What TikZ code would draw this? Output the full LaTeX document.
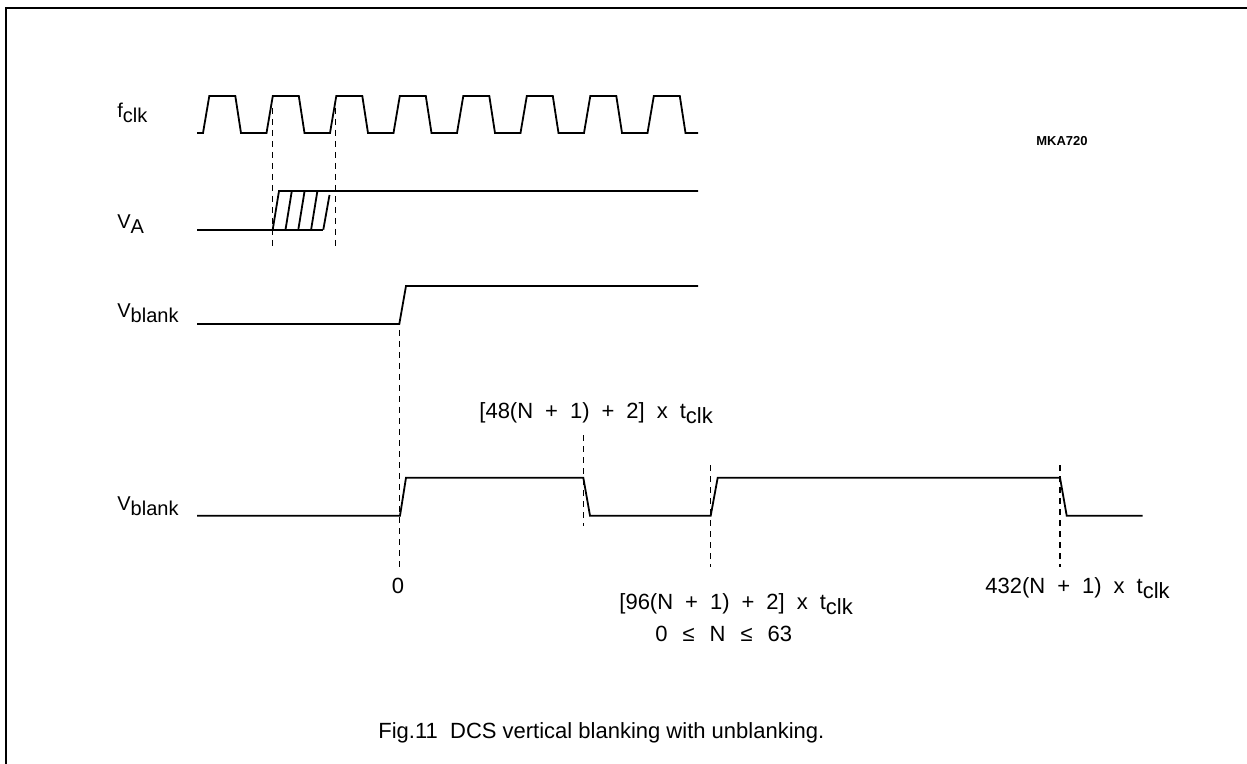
\documentclass[tikz,border=0pt]{standalone}
\usepackage{fontspec}
\setmainfont{Liberation Sans}
\usetikzlibrary{positioning}

\newcommand{\lowsub}[1]{\raisebox{-2.5pt}{#1}}
\newcommand{\gap}{\hspace{6pt}}
\newcommand{\wgap}{\hspace{7.5pt}}

\begin{document}
\begin{tikzpicture}[
    x=0.5pt, y=-0.5pt,
    sig/.style={draw=black, line width=0.9pt, line join=miter},
    guide/.style={draw=black, line width=0.7pt, dash pattern=on 3pt off 2.5pt},
    frame/.style={draw=black, line width=1pt},
    signame/.style={anchor=base west, inner sep=0pt, font=\fontsize{10}{12}\selectfont},
    timelbl/.style={anchor=base west, inner sep=0pt, font=\fontsize{11}{13}\selectfont},
    tag/.style={inner sep=0pt, font=\fontsize{6.5}{7}\selectfont\bfseries},
    caption/.style={anchor=base west, inner sep=0pt, font=\fontsize{11}{13}\selectfont}
  ]
    \useasboundingbox (0,0) rectangle (1247,764);
    % frame
    \draw[frame] (6,764) -- (6,8) -- (1247,8);

    % signal names
    \node[signame] (fclk) at (117,118) {f\lowsub{clk}};
    \node[signame] (va) at (117,229) {V\lowsub{A}};
    \node[signame] (vb1) at (117,318) {V\lowsub{blank}};
    \node[signame] (vb2) at (117,510) {V\lowsub{blank}};
    \node[tag] (code) at (1062,141) {MKA720};

    % clock
    \draw[sig] (197,133) \foreach \i in {0,...,7} {
        -- ({203+63.5*\i},133) -- ({209.3+63.5*\i},96)
        -- ({235.3+63.5*\i},96) -- ({241+63.5*\i},133) } -- (698,133);

    % V_A with uncertain edge
    \draw[sig] (197,229.7) -- (323.3,229.7);
    \draw[sig] (272.7,229.7) -- (279,191) -- (698,191);
    \foreach \i in {1,2,3} {
        \draw[sig] ({272.7+12.8*\i},229.7) -- ({279+12.8*\i},191);
    }
    \draw[sig] (323.3,229.7) -- (329.5,195);
    \draw[guide] (272.7,108) -- (272.7,247);
    \draw[guide] (335.7,108) -- (335.7,247);

    % first V_blank
    \draw[sig] (197,324) -- (399.3,324) -- (406,286) -- (698,286);

    % second V_blank
    \draw[sig] (197,515.7) -- (400,515.7) -- (406,477.7) -- (583.3,477.7)
        -- (590,515.7) -- (710.7,515.7) -- (717.7,477.7) -- (1060,477.7)
        -- (1066.7,515.7) -- (1142.7,515.7);

    % timing guides
    \draw[guide] (399.5,330) -- (399.5,567);
    \draw[guide] (583.3,435) -- (583.3,526);
    \draw[guide] (710.7,465) -- (710.7,567);
    \draw[guide] (1060,465) -- (1060,567);

    % timing labels
    \node[anchor=base, inner sep=0pt, font=\fontsize{11}{13}\selectfont] (zero) at (398,593) {0};
    \node[timelbl] (t48) at (479,418) {[48(N\gap+\gap1)\gap+\gap2]\gap x\gap t\lowsub{clk}};
    \node[timelbl] (t96) at (619,609) {[96(N\gap+\gap1)\gap+\gap2]\gap x\gap t\lowsub{clk}};
    \node[timelbl] (range) at (655,641) {0\wgap≤\wgap N\wgap≤\wgap 63};
    \node[timelbl] (t432) at (985,593) {432(N\gap+\gap1)\gap x\gap t\lowsub{clk}};

    \node[caption] (fig) at (378,738) {Fig.11\ \ DCS vertical blanking with unblanking.};
  \end{tikzpicture}
\end{document}
